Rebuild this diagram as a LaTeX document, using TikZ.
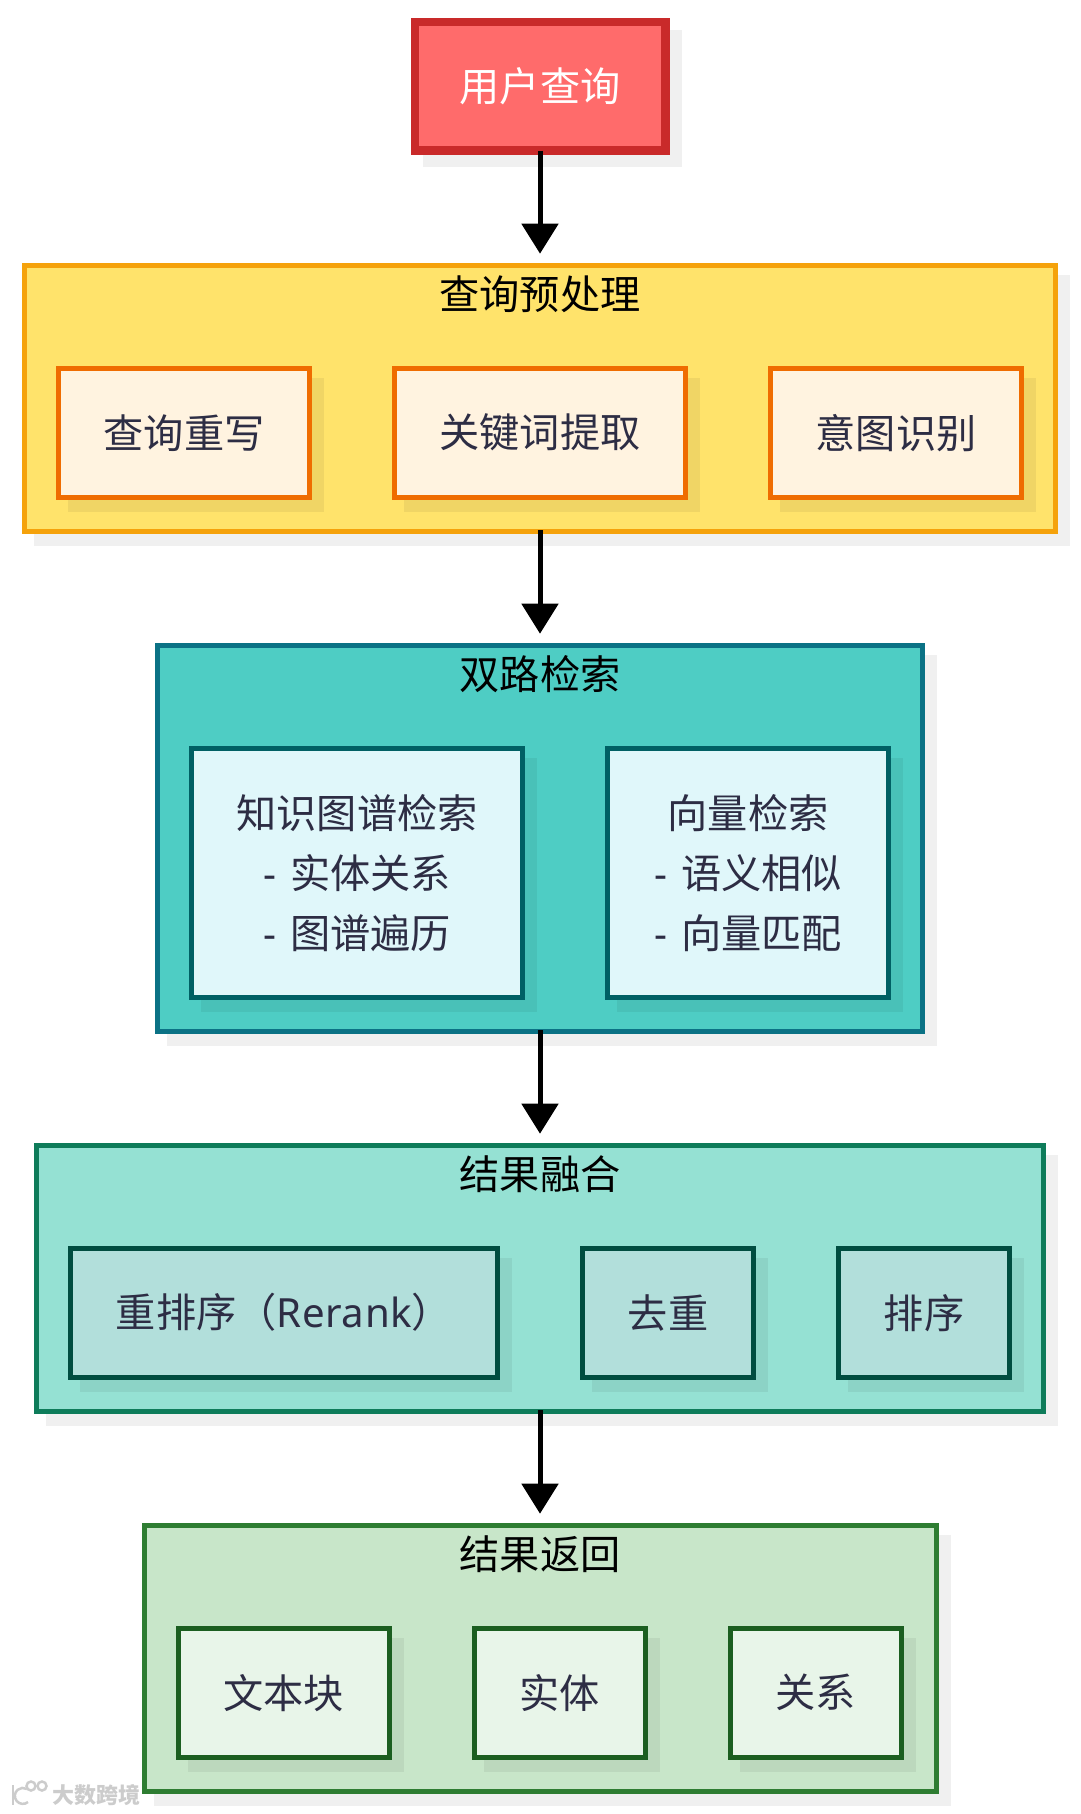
\documentclass[tikz,border=0pt]{standalone}
\usepackage{fontspec}
\setmainfont{Noto Sans CJK SC}
\newfontfamily\latinfont{Noto Sans}
\newfontfamily\rerankfont[LetterSpace=1.5]{Noto Sans}
\usetikzlibrary{positioning,arrows.meta,shadows}

\definecolor{inktext}{HTML}{2D2D44}
\definecolor{queryfill}{HTML}{FF6B6B}
\definecolor{queryline}{HTML}{C92A2A}
\definecolor{prefill}{HTML}{FFE36B}
\definecolor{preline}{HTML}{F5A20B}
\definecolor{preitemfill}{HTML}{FFF3E0}
\definecolor{preitemline}{HTML}{EF6C00}
\definecolor{dualfill}{HTML}{4ECDC4}
\definecolor{dualline}{HTML}{0B7285}
\definecolor{dualitemfill}{HTML}{E0F7FA}
\definecolor{dualitemline}{HTML}{006064}
\definecolor{mergefill}{HTML}{95E1D3}
\definecolor{mergeline}{HTML}{0E7C5A}
\definecolor{mergeitemfill}{HTML}{B2DFDB}
\definecolor{mergeitemline}{HTML}{004D40}
\definecolor{backfill}{HTML}{C8E6C9}
\definecolor{backline}{HTML}{2E7D32}
\definecolor{backitemfill}{HTML}{E8F5E9}
\definecolor{backitemline}{HTML}{1B5E20}

\newcommand{\dashitem}{{\latinfont -}\hspace{14pt}}

\tikzset{
  bigfont/.style={font=\fontsize{40.2}{60}\selectfont},
  offsetshadow/.style n args={2}{general shadow={shadow xshift=12pt, shadow yshift=-12pt, fill=#1!94!black, draw=#1!94!black, line width=#2}},
  groupbox/.style 2 args={rectangle, draw=#1, fill=#2, line width=5pt, minimum height=266.3pt, offsetshadow={white}{5pt}},
  itembox/.style n args={3}{rectangle, draw=#1, fill=#2, line width=5pt, minimum height=129pt, text=inktext, align=center, bigfont, inner sep=0pt, offsetshadow={#3}{5pt}},
  grouptitle/.style={bigfont, text=black, inner sep=0pt},
  flowline/.style={-{Triangle[length=30pt,width=36pt]}, line width=5pt, black, shorten <=-4pt, shorten >=9pt},
  logoline/.style={draw=black!20, line width=2.5pt}
}

\begin{document}
\begin{tikzpicture}[x=1pt, y=-1pt]
  \useasboundingbox (0,0) rectangle (1080,1814);

  \node (query) [rectangle, draw=queryline, fill=queryfill, line width=8.5pt, minimum width=250.5pt, minimum height=128.5pt, text=white, bigfont, offsetshadow={white}{8.5pt}] at (540,86.5) {用户查询};

  \node (pre) [groupbox={preline}{prefill}, minimum width=1031pt, below=107.7pt of query] {};
  \node (pretitle) [grouptitle, below=13pt of pre.north] {查询预处理};
  \node (rewrite) [itembox={preitemline}{preitemfill}{prefill}, minimum width=251pt, below right=103pt and 34pt of pre.north west] {查询重写};
  \node (keyword) [itembox={preitemline}{preitemfill}{prefill}, minimum width=291pt, right=80pt of rewrite] {关键词提取};
  \node (intent) [itembox={preitemline}{preitemfill}{prefill}, minimum width=251pt, right=80pt of keyword] {意图识别};

  \node (dual) [groupbox={dualline}{dualfill}, minimum width=765pt, minimum height=386.3pt, below=108.7pt of pre] {};
  \node (dualtitle) [grouptitle, below=13pt of dual.north] {双路检索};
  \node (graph) [itembox={dualitemline}{dualitemfill}{dualfill}, minimum width=331pt, minimum height=249pt, below right=103pt and 34pt of dual.north west] {知识图谱检索\\\dashitem 实体关系\\\dashitem 图谱遍历};
  \node (vector) [itembox={dualitemline}{dualitemfill}{dualfill}, minimum width=281pt, minimum height=249pt, right=80pt of graph] {向量检索\\\dashitem 语义相似\\\dashitem 向量匹配};

  \node (merge) [groupbox={mergeline}{mergefill}, minimum width=1007pt, below=108.7pt of dual] {};
  \node (mergetitle) [grouptitle, below=13pt of merge.north] {结果融合};
  \node (rerank) [itembox={mergeitemline}{mergeitemfill}{mergefill}, minimum width=427pt, below right=103pt and 34pt of merge.north west] {重排序（{\rerankfont Rerank}）};
  \node (dedup) [itembox={mergeitemline}{mergeitemfill}{mergefill}, minimum width=171pt, right=80pt of rerank] {去重};
  \node (sorting) [itembox={mergeitemline}{mergeitemfill}{mergefill}, minimum width=171pt, right=80pt of dedup] {排序};

  \node (back) [groupbox={backline}{backfill}, minimum width=792pt, below=108.7pt of merge] {};
  \node (backtitle) [grouptitle, below=13pt of back.north] {结果返回};
  \node (chunk) [itembox={backitemline}{backitemfill}{backfill}, minimum width=211pt, below right=103pt and 34pt of back.north west] {文本块};
  \node (entity) [itembox={backitemline}{backitemfill}{backfill}, minimum width=171pt, right=80pt of chunk] {实体};
  \node (relation) [itembox={backitemline}{backitemfill}{backfill}, minimum width=171pt, right=80pt of entity] {关系};

  \draw[flowline] (query) -- (pre);
  \draw[flowline] (pre) -- (dual);
  \draw[flowline] (dual) -- (merge);
  \draw[flowline] (merge) -- (back);

  \node (mark) [text=black!20, inner sep=0pt, font=\fontsize{22}{22}\selectfont\bfseries, anchor=west] at (52,1795) {大数跨境};
  \draw[logoline] (13,1785) -- (13,1805);
  \draw[logoline] (28,1802) arc (50:300:8);
  \draw[logoline] (31,1786) circle (4.5);
  \draw[logoline] (42,1786) circle (4.5);
\end{tikzpicture}
\end{document}
